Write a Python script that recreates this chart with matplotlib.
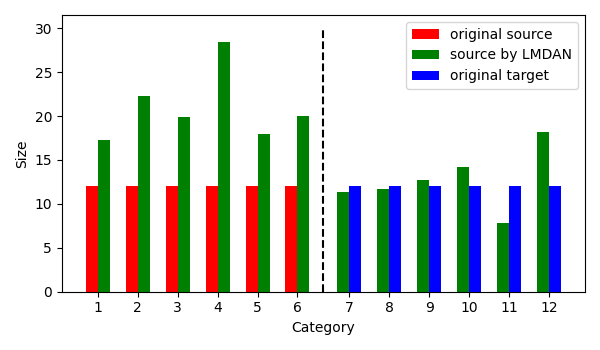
import numpy as np
import matplotlib
matplotlib.use('Agg')
import matplotlib.pyplot as plt

labels = ['1', '2', '3', '4', '5', '6', '7', '8', '9', '10', '11', '12']
src_orig = [12, 12, 12, 12, 12, 12]
src_lmdan = [17.3, 22.3, 19.9, 28.45, 17.9, 20.0,
             11.4, 11.75, 12.75, 14.2, 7.85, 18.2]
tgt_orig = [12, 12, 12, 12, 12, 12]

w = 0.3
pos = np.array(list(range(1, 7)) + [x + 0.3 for x in range(7, 13)])
left, right = pos[:6], pos[6:]

fig, ax = plt.subplots(figsize=(6, 3.5), dpi=100)
ax.bar(left - w/2, src_orig, w, color='red', label='original source')
ax.bar(pos + np.where(pos < 6.5, w/2, -w/2), src_lmdan, w, color='green', label='source by LMDAN')
ax.bar(right + w/2, tgt_orig, w, color='blue', label='original target')
ax.vlines((left[-1] + right[0]) / 2, 0, 30, colors='black', linestyles='dashed', linewidth=1.5)

ax.set_xticks(pos)
ax.set_xticklabels(labels)
ax.set_xlabel('Category')
ax.set_ylabel('Size')
ax.legend(loc='upper right')
plt.tight_layout()
plt.savefig('out.png')
